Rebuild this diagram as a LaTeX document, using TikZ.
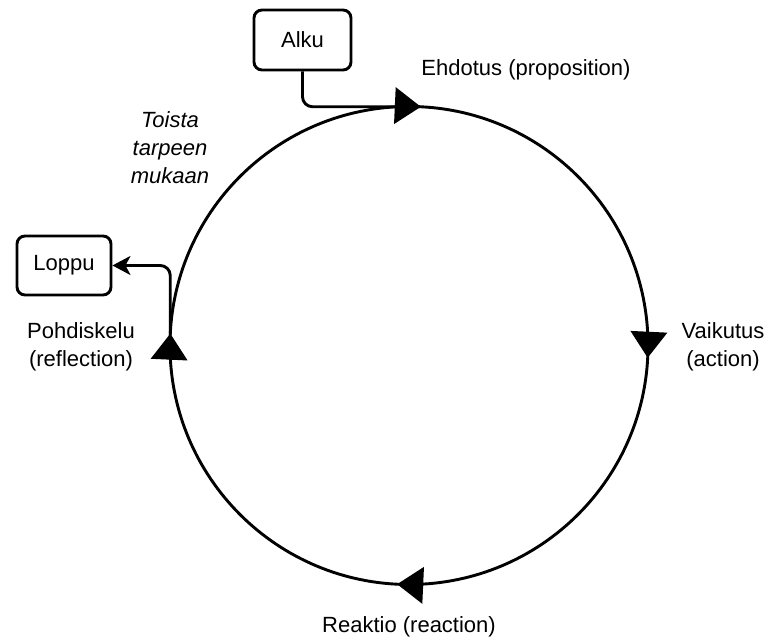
\documentclass[tikz,border=0pt]{standalone}
\usepackage{fontspec}
\setmainfont{Liberation Sans}
\usetikzlibrary{arrows.meta,calc}
\begin{document}
\begin{tikzpicture}[x=1pt,y=1pt,
  every node/.style={font=\fontsize{22}{28}\selectfont},
  termbox/.style={draw,line width=2.9pt,rounded corners=8pt,minimum width=#1,minimum height=60pt,inner sep=0pt},
  lbl/.style={align=center,inner sep=0pt},
  conn/.style={line width=2.9pt,rounded corners=10pt},
  headtri/.style={fill=black}]
\useasboundingbox (0,0) rectangle (767,644);
\coordinate (C) at (409,298.5);
\def\rad{239}
\draw[line width=2.9pt] (C) circle (\rad);
% arrow tips on the cycle
\coordinate (tipT) at ($(C)+(87.4:\rad)$);
\coordinate (tipR) at ($(C)+(-2.7:\rad)$);
\coordinate (tipB) at ($(C)+(267.4:\rad)$);
\coordinate (tipL) at ($(C)+(177.4:\rad)$);
\foreach \p/\a in {tipT/87.4,tipR/-2.7,tipB/267.4,tipL/177.4}{
  \begin{scope}[shift={(\p)},rotate=\a-90]
    \fill (1,0) -- (-25,18.5) -- (-25,-18.5) -- cycle;
  \end{scope}
}
% boxes
\node[termbox=97pt] (alku) at (302.5,604) {Alku};
\node[termbox=94pt,minimum height=59pt] (loppu) at (64,378.5) {Loppu};
% connectors
\draw[conn] (alku.south) |- (tipT);
\draw[conn,-{Stealth[length=18pt,width=19pt,inset=5pt]}] (tipL) |- (loppu.east);
% labels
\node[lbl] (ehd) at (526,574) {Ehdotus (proposition)};
\node[lbl] (vai) at (723,297) {Vaikutus\\(action)};
\node[lbl] (rea) at (409,17) {Reaktio (reaction)};
\node[lbl] (poh) at (81,297) {Pohdiskelu\\(reflection)};
\node[lbl,font=\fontsize{22}{28}\selectfont\itshape] (toi) at (170,496) {Toista\\tarpeen\\mukaan};
\end{tikzpicture}
\end{document}
